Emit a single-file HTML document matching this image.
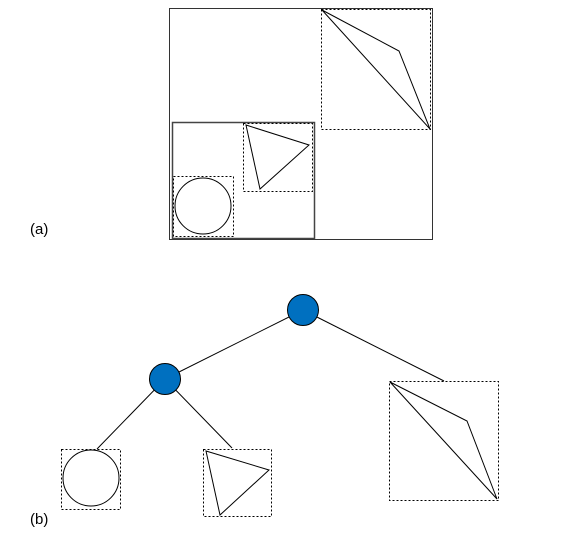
<!DOCTYPE html>
<html><head><meta charset="utf-8"><style>
html,body{margin:0;padding:0;background:#fff}
svg{display:block}
text{font-family:"Liberation Sans",sans-serif;font-size:15px;fill:#000}
</style></head><body>
<svg width="582" height="534" viewBox="0 0 582 534">
<g fill="none" stroke="#000" stroke-width="1">
 <g>
  <rect x="169.5" y="8.5" width="263" height="231" stroke="#333"/>
  <rect x="172.5" y="122.5" width="142" height="116" stroke="#444" stroke-width="1.5"/>
  <rect x="321.5" y="9.5" width="109" height="120" stroke-dasharray="2,2"/>
  <polygon points="322,10 399,51 430,129"/>
  <rect x="243.5" y="123.5" width="69" height="68" stroke-dasharray="2,2"/>
  <polygon points="246,125 309,145 260,189"/>
  <rect x="173.5" y="176.5" width="60" height="60" stroke-dasharray="2,2"/>
  <circle cx="203" cy="206" r="28"/>
 </g>
 <g>
  <line x1="303" y1="310" x2="165" y2="379"/>
  <line x1="303" y1="310" x2="444" y2="381"/>
  <line x1="165" y1="379" x2="97" y2="449"/>
  <line x1="165" y1="379" x2="232" y2="448"/>
  <circle cx="303" cy="310" r="15.5" fill="#0070c0"/>
  <circle cx="165" cy="379" r="15.5" fill="#0070c0"/>
  <rect x="61.5" y="449.5" width="59" height="60" stroke-dasharray="2,2" fill="#fff"/>
  <circle cx="91" cy="478" r="28"/>
  <rect x="203.5" y="449.5" width="68" height="67" stroke-dasharray="2,2" fill="#fff"/>
  <polygon points="206,451 269,470 220,515"/>
  <rect x="389.5" y="381.5" width="109" height="119" stroke-dasharray="2,2" fill="#fff"/>
  <polygon points="390,382 467,421 497,499"/>
 </g>
</g>
<text x="30" y="234">(a)</text>
<text x="30" y="524">(b)</text>
</svg>
</body></html>
